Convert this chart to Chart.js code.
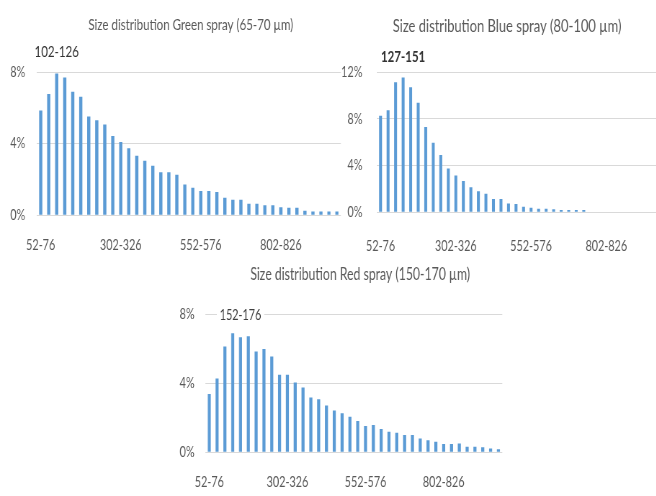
<!DOCTYPE html>
<html>
<head>
<meta charset="utf-8">
<script src="https://cdn.jsdelivr.net/npm/chart.js@4.4.1/dist/chart.umd.min.js"></script>
<style>
    html, body { margin: 0; padding: 0; background: #fff; width: 656px; height: 496px; overflow: hidden; }
    /* the source picture is squeezed horizontally, so each chart is too */
    .box { position: absolute; transform: scaleX(0.72); transform-origin: 0 0; }
</style>
</head>
<body>
<div class="box" style="left:0px;top:0px;width:489px;height:255px;"><canvas id="greenChart"></canvas></div>
<div class="box" style="left:330px;top:0px;width:482px;height:252px;"><canvas id="blueChart"></canvas></div>
<div class="box" style="left:160px;top:258px;width:491px;height:234px;"><canvas id="redChart"></canvas></div>
<script>
// Size bins (µm), 25 µm wide
const sizeBins = [
    '52-76', '77-101', '102-126', '127-151', '152-176', '177-201', '202-226', '227-251',
    '252-276', '277-301', '302-326', '327-351', '352-376', '377-401', '402-426', '427-451',
    '452-476', '477-501', '502-526', '527-551', '552-576', '577-601', '602-626', '627-651',
    '652-676', '677-701', '702-726', '727-751', '752-776', '777-801', '802-826', '827-851',
    '852-876', '877-901', '902-926', '927-951', '952-976', '977-1001'
];

// Percent of droplets per bin
const greenValues = [
    5.83, 6.75, 7.9, 7.67, 6.88, 6.59, 5.49, 5.28, 5.05, 4.4,
    4.07, 3.72, 3.3, 3.01, 2.73, 2.37, 2.37, 2.24, 1.69, 1.5,
    1.32, 1.32, 1.27, 0.95, 0.83, 0.83, 0.61, 0.61, 0.53, 0.53,
    0.42, 0.39, 0.39, 0.22, 0.18, 0.18, 0.18, 0.18
];
const blueValues = [
    8.23, 8.69, 11.09, 11.51, 10.66, 9.34, 7.26, 5.91, 4.86, 3.71,
    3.11, 2.63, 2.09, 1.74, 1.54, 1.09, 1.09, 0.71, 0.66, 0.43,
    0.34, 0.26, 0.26, 0.2, 0.14, 0.14, 0.14, 0.14, null, null,
    null, null, null, null, null, null, null, null
];
const redValues = [
    3.35, 4.24, 6.1, 6.86, 6.63, 6.69, 5.81, 5.95, 5.52, 4.46,
    4.46, 4.01, 3.72, 3.14, 3.04, 2.67, 2.38, 2.23, 2.02, 1.78,
    1.49, 1.55, 1.32, 1.16, 1.1, 0.97, 0.97, 0.76, 0.66, 0.58,
    0.45, 0.45, 0.48, 0.29, 0.29, 0.25, 0.19, 0.14
];

const greenTitle = 'Size distribution Green spray (65-70 µm)';
const blueTitle = 'Size distribution Blue spray (80-100 µm)';
const redTitle = 'Size distribution Red spray (150-170 µm)';

// bin that gets its name written above it
const greenPeak = '102-126';
const bluePeak = '127-151';
const redPeak = '152-176';

const yTicksGreen = [0, 4, 8];
const yTicksBlue = [0, 4, 8, 12];
const yTicksRed = [0, 4, 8];

const FONT = "Lato, 'Open Sans', sans-serif";
const barColor = '#5B9BD5';
const gridColor = '#d9d9d9';
const textColor = '#595959';

// title + peak bin label, drawn at fixed spots
const labelsPlugin = {
    id: 'sprayLabels',
    afterDraw(chart, args, opts) {
        const ctx = chart.ctx;
        ctx.save();
        ctx.textAlign = 'center';
        ctx.textBaseline = 'middle';

        ctx.font = opts.titleFont;
        ctx.fillStyle = textColor;
        ctx.fillText(opts.title, opts.titleX, opts.titleY);

        const idx = chart.data.labels.indexOf(opts.peak);
        if (idx >= 0) {
            const x = chart.scales.x.getPixelForValue(idx);
            const y = chart.chartArea.top + opts.peakDy;
            ctx.font = opts.peakFont;
            if (opts.peakBg) {
                const w = ctx.measureText(opts.peak).width;
                ctx.fillStyle = '#fff';
                ctx.fillRect(x - w / 2 - 4, y - 7, w + 8, 14);
            }
            ctx.fillStyle = opts.peakColor;
            ctx.fillText(opts.peak, x, y);
        }
        ctx.restore();
    }
};

function makeChart(id, values, yTicks, yWidth, padTop, tickPad, yPad, barW, labels) {
    const ctx = document.getElementById(id).getContext('2d');
    return new Chart(ctx, {
        type: 'bar',
        data: {
            labels: sizeBins,
            datasets: [{
                data: values,
                backgroundColor: barColor,
                barThickness: barW
            }]
        },
        options: {
            responsive: true,
            maintainAspectRatio: false,
            animation: false,
            layout: { padding: { top: padTop, right: 5, left: 0, bottom: 0 } },
            plugins: {
                legend: { display: false },
                tooltip: { enabled: false },
                title: { display: false },
                sprayLabels: labels
            },
            scales: {
                x: {
                    grid: { display: false, drawTicks: false },
                    border: { display: false },
                    afterFit: (scale) => { scale.height = 40; },
                    ticks: {
                        autoSkip: false,
                        maxRotation: 0,
                        padding: tickPad,
                        color: textColor,
                        font: { family: FONT, size: 15 },
                        callback: function(value, index) {
                            return index % 10 === 0 ? sizeBins[index] : '';
                        }
                    }
                },
                y: {
                    min: yTicks[0],
                    max: yTicks[yTicks.length - 1],
                    grid: { color: gridColor, drawTicks: false, lineWidth: 1 },
                    border: { display: false },
                    afterFit: (scale) => { scale.width = yWidth; },
                    afterBuildTicks: (scale) => { scale.ticks = yTicks.map(v => ({ value: v })); },
                    ticks: {
                        padding: yPad,
                        color: textColor,
                        font: { family: FONT, size: 15 },
                        callback: v => v + '%'
                    }
                }
            }
        },
        plugins: [labelsPlugin]
    });
}

makeChart('greenChart', greenValues, yTicksGreen, 51, 72, 21, 16, 3.8, {
    title: greenTitle, titleX: 265, titleY: 25, titleFont: '16px ' + FONT,
    peak: greenPeak, peakDy: -20, peakFont: '16px ' + FONT, peakColor: '#333333'
});
makeChart('blueChart', blueValues, yTicksBlue, 65, 72, 25, 20, 3.4, {
    title: blueTitle, titleX: 246, titleY: 26, titleFont: '18px ' + FONT,
    peak: bluePeak, peakDy: -15, peakFont: 'bold 16px ' + FONT, peakColor: '#333333'
});
makeChart('redChart', redValues, yTicksRed, 63, 56, 21, 15, 3.6, {
    title: redTitle, titleX: 278, titleY: 17, titleFont: '17px ' + FONT,
    peak: redPeak, peakDy: 1, peakFont: '15px ' + FONT, peakColor: '#404040', peakBg: true
});
</script>
</body>
</html>
